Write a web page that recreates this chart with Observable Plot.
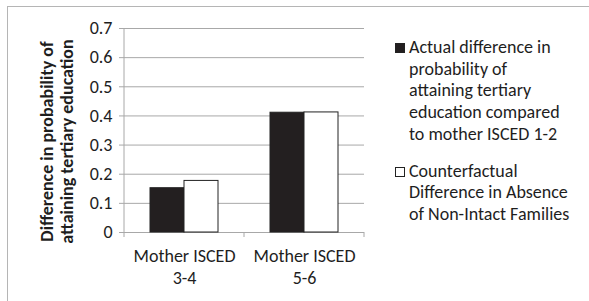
<!DOCTYPE html>
<html><head><meta charset="utf-8">
<script src="https://cdn.jsdelivr.net/npm/d3@7"></script>
<script src="https://cdn.jsdelivr.net/npm/@observablehq/plot@0.6"></script>
<style>
body{margin:0;background:#fff;font-family:Carlito,"Open Sans",sans-serif;}
#wrap{position:relative;width:589px;height:301px;overflow:hidden;}
#border{position:absolute;left:7px;top:6px;width:700px;height:400px;border:1px solid #b5b5b5;}
#chart{position:absolute;left:0;top:0;}
#legend{position:absolute;left:395px;top:37px;font-size:18px;line-height:21.7px;color:#1e1e1e;}
.item{display:flex;align-items:flex-start;margin-bottom:15px;}
.sw{width:8px;height:8px;border:1px solid #222;margin-top:6px;margin-right:4px;flex:none;}
</style></head>
<body><div id="wrap"><div id="border"></div><div id="chart"></div><div id="legend"></div></div>
<script>
const categories = ["Mother ISCED\n3-4", "Mother ISCED\n5-6"];
const series = ["Actual difference in\nprobability of\nattaining tertiary\neducation compared\nto mother ISCED 1-2", "Counterfactual\nDifference in Absence\nof Non-Intact Families"];
const actual = [0.152, 0.411];
const counterfactual = [0.177, 0.412];
const yTicks = [0, 0.1, 0.2, 0.3, 0.4, 0.5, 0.6, 0.7];
const yLabel = "Difference in probability of\nattaining tertiary education";
const colors = ["#231f20", "#ffffff"];

const data = [];
categories.forEach((c, i) => {
  data.push({cat: c, s: series[0], v: actual[i]});
  data.push({cat: c, s: series[1], v: counterfactual[i]});
});

const font = "Carlito, 'Open Sans', sans-serif";
const chart = Plot.plot({
  width: 372, height: 301,
  marginLeft: 123, marginRight: 8, marginTop: 28, marginBottom: 69,
  style: {fontFamily: font, fontSize: "18px", background: "transparent", color: "#1e1e1e"},
  fx: {domain: categories, padding: 0, label: null},
  x: {domain: series, paddingInner: 0, paddingOuter: 0.75, axis: null},
  y: {domain: [0, 0.7], label: null},
  color: {domain: series, range: colors},
  marks: [
    Plot.gridY(yTicks, {stroke: "#a8a8a8", strokeOpacity: 1}),
    Plot.axisY(yTicks, {tickSize: 5, tickPadding: 7, fontSize: 18, label: null, stroke: "#a8a8a8",
      tickFormat: d => d === 0 ? "0" : d.toFixed(1)}),
    Plot.axisFx({anchor: "bottom", tickSize: 0, tickPadding: 15, fontSize: 18, lineHeight: 1.17, label: null}),
    Plot.barY(data, {fx: "cat", x: "s", y: "v", fill: "s", stroke: "#222", strokeWidth: 1}),
    Plot.text([yLabel], {fx: () => categories[0], frameAnchor: "left", textAnchor: "middle", rotate: -90, dx: -68, dy: 11,
      fontSize: 18, fontWeight: "bold", lineHeight: 1.1, fill: "#1e1e1e"})
  ]
});
document.getElementById("chart").appendChild(chart);

// axis line and boundary ticks from the fx scale
const fx = chart.scale("fx");
const yS = chart.scale("y");
const svg = d3.select(chart);
const edges = categories.map(c => fx.apply(c));
edges.push(edges[edges.length - 1] + fx.bandwidth);
const y0 = yS.apply(0), yTop = yS.apply(0.7);
edges.forEach((e, i) => {
  svg.append("line").attr("x1", e).attr("x2", e)
    .attr("y1", i === 0 ? yTop : y0).attr("y2", y0 + 5)
    .attr("stroke", "#a8a8a8");
});

const leg = document.getElementById("legend");
series.forEach((s, i) => {
  const it = document.createElement("div"); it.className = "item";
  const sw = document.createElement("div"); sw.className = "sw"; sw.style.background = colors[i];
  const tx = document.createElement("div"); tx.innerHTML = s.split("\n").join("<br>");
  it.appendChild(sw); it.appendChild(tx); leg.appendChild(it);
});
</script></body></html>
